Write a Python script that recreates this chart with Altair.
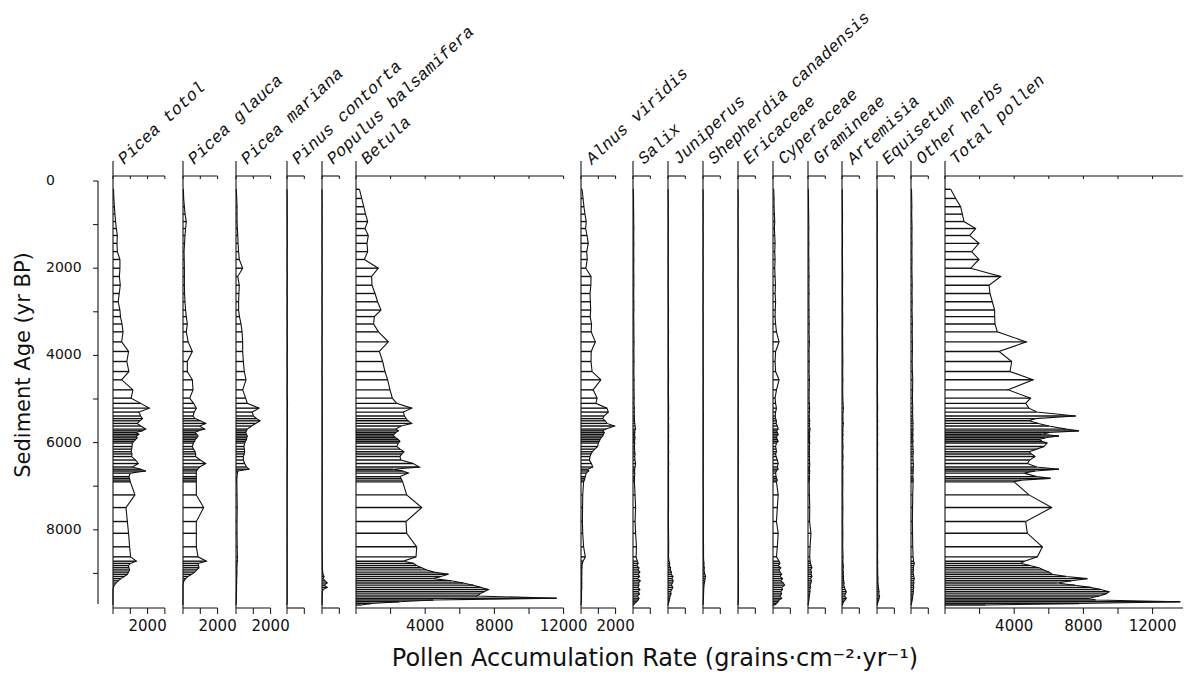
import altair as alt
import pandas as pd

# ---------------- data ----------------
AGES = [190, 400, 590, 760, 930, 1090, 1250, 1430, 1620, 1800,
        2000, 2190, 2390, 2580, 2770, 2960, 3110, 3280, 3460, 3690,
        3910, 4140, 4370, 4560, 4790, 4980, 5100, 5210, 5300, 5390,
        5450, 5500, 5560, 5620, 5690, 5730, 5770, 5810, 5850, 5890,
        5930, 5970, 6010, 6090, 6150, 6210, 6260, 6320, 6400, 6480,
        6560, 6610, 6650, 6700, 6780, 6820, 6860, 6900, 7200, 7490,
        7810, 8080, 8390, 8620, 8720, 8770, 8820, 8870, 8920, 8970,
        9020, 9070, 9120, 9170, 9220, 9270, 9320, 9370, 9420, 9470,
        9520, 9570, 9610, 9650, 9690, 9725]

PICEA_TOTAL = [30, 50, 80, 110, 150, 190, 250, 230, 250, 400,
               400, 370, 420, 360, 300, 400, 430, 520, 580, 500,
               900, 800, 920, 500, 1150, 1050, 1600, 2100, 1500, 1600,
               1700, 1550, 1400, 1600, 1890, 1700, 1310, 1500, 1350, 1400,
               1300, 1200, 1120, 1100, 1080, 1050, 1100, 1080, 1300, 1460,
               1120, 1600, 1890, 1000, 925, 950, 980, 1000, 1270, 750,
               830, 900, 960, 1020, 1350, 1000, 890, 920, 960, 900,
               830, 650, 450, 300, 180, 80, 30, 0, 0, 0,
               0, 0, 0, 0, 0, 0]
PICEA_GLAUCA = [20, 40, 80, 120, 190, 150, 115, 90, 60, 70,
                80, 80, 80, 90, 115, 150, 190, 250, 190, 300,
                540, 250, 250, 540, 580, 385, 615, 770, 650, 580,
                700, 1000, 1310, 960, 1250, 900, 675, 800, 870, 800,
                700, 675, 600, 540, 600, 700, 730, 730, 1000, 1310,
                960, 850, 770, 770, 770, 770, 770, 770, 770, 1195,
                770, 770, 770, 870, 1350, 870, 900, 925, 800, 675,
                500, 290, 150, 60, 20, 0, 0, 0, 0, 0,
                0, 0, 0, 0, 0, 0]
PICEA_MARIANA = [20, 40, 60, 60, 60, 80, 100, 120, 150, 190,
                 385, 100, 190, 170, 150, 150, 200, 290, 350, 385,
                 385, 425, 480, 580, 385, 560, 655, 1330, 945, 1000,
                 1200, 1390, 1135, 900, 655, 600, 560, 600, 655, 620,
                 600, 560, 500, 460, 480, 500, 480, 425, 425, 500,
                 600, 750, 115, 77, 60, 50, 50, 50, 60, 70,
                 60, 60, 70, 80, 80, 60, 60, 50, 50, 60,
                 50, 50, 40, 40, 40, 30, 30, 30, 30, 20,
                 20, 20, 20, 10, 10, 0]
PINUS_CONTORTA = [0, 10, 10, 10, 20, 10, 10, 20, 10, 10,
                  10, 20, 10, 10, 20, 10, 10, 20, 10, 20,
                  20, 10, 20, 20, 10, 20, 30, 20, 20, 30,
                  20, 30, 20, 30, 20, 20, 30, 20, 20, 20,
                  20, 20, 20, 20, 10, 20, 20, 10, 20, 20,
                  20, 10, 20, 10, 10, 10, 20, 10, 10, 10,
                  10, 10, 10, 10, 10, 10, 10, 10, 10, 10,
                  10, 10, 10, 10, 10, 10, 10, 10, 10, 10,
                  10, 10, 10, 10, 0, 0]
POPULUS = [0, 0, 10, 0, 10, 0, 10, 0, 10, 0,
           10, 0, 10, 10, 0, 10, 0, 10, 10, 0,
           10, 10, 0, 10, 10, 10, 20, 10, 10, 20,
           10, 20, 10, 20, 10, 10, 20, 10, 10, 20,
           10, 10, 20, 10, 10, 20, 10, 10, 10, 20,
           10, 10, 20, 10, 10, 10, 10, 20, 10, 10,
           10, 10, 10, 20, 20, 20, 30, 20, 30, 40,
           60, 120, 60, 180, 300, 120, 300, 60, 30, 20,
           20, 10, 10, 10, 0, 0]
BETULA = [200, 330, 450, 550, 675, 520, 710, 635, 675, 480,
          1290, 905, 925, 1100, 1250, 1445, 1060, 1020, 1300, 1870,
          1350, 1540, 1675, 1830, 1965, 2100, 2350, 3220, 2740, 2800,
          2900, 3000, 3220, 2600, 2300, 2450, 2300, 2200, 2160, 2300,
          2450, 2540, 2450, 2350, 2550, 2775, 2650, 2540, 2600, 3300,
          3660, 2160, 2700, 3025, 2540, 2600, 2650, 2700, 2930, 3800,
          2890, 2930, 3510, 3470, 2740, 3315, 3500, 3800, 4085, 4500,
          5340, 4900, 4470, 5500, 6200, 6780, 7200, 7650, 7400, 7170,
          7000, 11600, 4470, 2500, 900, 300]
ALNUS = [60, 120, 170, 230, 300, 270, 350, 420, 330, 360,
         280, 580, 570, 520, 540, 560, 530, 610, 590, 830,
         590, 580, 640, 1150, 700, 930, 860, 1500, 1580, 1330,
         1250, 1400, 1500, 1930, 1450, 1250, 1350, 1300, 1250, 1150,
         1100, 1060, 1000, 960, 800, 650, 580, 520, 480, 600,
         680, 390, 450, 300, 250, 220, 200, 150, 100, 90,
         80, 100, 150, 250, 120, 80, 60, 60, 50, 50,
         50, 40, 50, 40, 50, 40, 50, 40, 30, 30,
         30, 30, 20, 20, 10, 0]
SALIX = [20, 30, 30, 40, 40, 50, 40, 50, 40, 50,
         40, 50, 50, 40, 50, 50, 40, 50, 50, 60,
         50, 60, 50, 60, 60, 70, 60, 80, 70, 80,
         80, 90, 100, 120, 150, 100, 110, 90, 100, 120,
         100, 90, 100, 80, 90, 100, 120, 100, 110, 150,
         120, 100, 90, 100, 90, 80, 90, 80, 120, 150,
         120, 150, 200, 180, 250, 300, 220, 350, 280, 400,
         300, 380, 250, 420, 320, 350, 280, 400, 300, 380,
         250, 350, 300, 200, 100, 30]
JUNIPERUS = [10, 10, 20, 10, 20, 20, 10, 20, 20, 10,
             20, 20, 10, 20, 20, 30, 20, 20, 30, 20,
             30, 20, 30, 30, 20, 30, 30, 40, 30, 30,
             40, 30, 30, 40, 30, 40, 30, 30, 40, 30,
             30, 40, 30, 30, 30, 40, 30, 30, 30, 40,
             30, 30, 40, 30, 30, 30, 30, 30, 30, 30,
             20, 30, 40, 30, 60, 100, 80, 150, 120, 200,
             180, 290, 220, 300, 250, 200, 280, 220, 150, 180,
             120, 100, 80, 50, 20, 0]
SHEPHERDIA = [0, 10, 0, 10, 10, 0, 10, 10, 0, 10,
              10, 0, 10, 10, 10, 0, 10, 10, 10, 10,
              10, 10, 10, 20, 10, 10, 20, 10, 20, 20,
              10, 20, 20, 10, 20, 20, 10, 20, 20, 10,
              20, 20, 10, 20, 10, 20, 20, 10, 20, 10,
              20, 10, 20, 10, 10, 20, 10, 10, 20, 20,
              20, 20, 30, 30, 40, 60, 50, 80, 60, 80,
              100, 150, 120, 100, 80, 60, 50, 40, 40, 30,
              30, 20, 20, 10, 10, 0]
ERICACEAE = [0, 10, 10, 0, 10, 10, 10, 0, 10, 10,
             10, 10, 0, 10, 10, 10, 10, 10, 20, 10,
             10, 20, 10, 10, 20, 10, 20, 20, 10, 20,
             20, 10, 20, 20, 20, 10, 20, 20, 10, 20,
             20, 20, 10, 20, 20, 10, 20, 10, 20, 20,
             10, 20, 10, 20, 10, 10, 20, 10, 10, 20,
             10, 20, 10, 20, 20, 30, 20, 30, 20, 30,
             30, 20, 30, 30, 20, 30, 20, 30, 20, 20,
             20, 20, 10, 10, 10, 0]
CYPERACEAE = [40, 60, 60, 80, 100, 80, 100, 120, 100, 120,
              100, 120, 140, 120, 150, 130, 120, 150, 200, 350,
              150, 120, 150, 350, 200, 120, 150, 200, 150, 130,
              150, 200, 180, 250, 300, 200, 250, 300, 220, 200,
              250, 300, 200, 150, 180, 200, 150, 180, 250, 300,
              250, 300, 200, 150, 180, 200, 250, 200, 300, 250,
              200, 300, 250, 200, 350, 400, 300, 450, 350, 400,
              500, 400, 550, 450, 600, 670, 500, 550, 450, 500,
              400, 500, 350, 300, 200, 100]
GRAMINEAE = [20, 30, 30, 40, 40, 50, 40, 50, 40, 50,
             50, 60, 50, 60, 50, 60, 60, 70, 60, 80,
             60, 70, 60, 80, 70, 60, 80, 90, 80, 70,
             80, 100, 90, 80, 120, 100, 90, 80, 100, 90,
             80, 90, 100, 80, 90, 80, 70, 90, 80, 100,
             90, 80, 100, 90, 80, 90, 80, 70, 80, 100,
             90, 170, 120, 100, 120, 150, 180, 230, 150, 200,
             180, 230, 150, 200, 170, 120, 150, 100, 120, 90,
             80, 60, 50, 40, 20, 0]
ARTEMISIA = [10, 20, 20, 30, 30, 20, 30, 30, 20, 30,
             30, 40, 30, 30, 40, 30, 40, 40, 30, 40,
             40, 50, 40, 50, 40, 50, 60, 80, 60, 50,
             60, 50, 80, 60, 50, 60, 40, 60, 50, 40,
             50, 40, 50, 60, 50, 40, 50, 60, 50, 40,
             60, 50, 40, 50, 40, 50, 40, 50, 40, 50,
             40, 50, 40, 60, 50, 60, 80, 70, 60, 80,
             70, 90, 80, 100, 120, 100, 150, 180, 250, 200,
             150, 250, 180, 100, 50, 20]
EQUISETUM = [10, 10, 20, 10, 20, 20, 10, 20, 20, 20,
             20, 20, 30, 20, 20, 30, 20, 30, 20, 30,
             30, 20, 30, 30, 20, 30, 30, 40, 30, 30,
             30, 40, 30, 30, 40, 30, 30, 40, 30, 30,
             30, 30, 40, 30, 30, 30, 40, 30, 30, 30,
             30, 40, 30, 30, 30, 30, 40, 30, 30, 30,
             30, 30, 40, 30, 40, 40, 30, 40, 40, 40,
             40, 50, 60, 50, 60, 70, 80, 100, 120, 100,
             150, 120, 100, 60, 30, 10]
OTHER_HERBS = [30, 40, 50, 40, 50, 60, 50, 60, 50, 60,
               50, 60, 70, 60, 70, 60, 70, 80, 70, 80,
               80, 70, 80, 100, 90, 80, 90, 100, 90, 100,
               100, 110, 120, 100, 120, 110, 100, 120, 110, 100,
               110, 120, 100, 110, 120, 130, 120, 110, 120, 130,
               135, 120, 130, 120, 110, 120, 130, 120, 100, 90,
               80, 90, 100, 120, 150, 190, 160, 130, 150, 120,
               140, 160, 190, 150, 170, 140, 160, 130, 140, 120,
               100, 90, 70, 50, 30, 10]
TOTAL_POLLEN = [330, 620, 905, 1000, 1100, 1770, 1425, 1965, 1540, 1965,
                1485, 3220, 2545, 2600, 2735, 2870, 2870, 2890, 3025, 4700,
                3120, 3855, 3760, 5090, 3640, 4950, 4660, 4855, 5300, 7550,
                5200, 4855, 5400, 6000, 7000, 7745, 6000, 5630, 6590, 5800,
                5435, 5600, 5900, 5720, 5300, 4855, 5000, 5200, 4900, 4760,
                5300, 6590, 5200, 4565, 5300, 6110, 4400, 3990, 4855, 6165,
                4660, 4760, 5630, 5340, 4600, 4375, 4900, 5435, 5700, 6010,
                6200, 7000, 8230, 7300, 6495, 7500, 8400, 9000, 9480, 9300,
                8900, 8325, 8700, 13600, 7745, 2350]

TAXA = ["Picea totol", "Picea glauca", "Picea mariana", "Pinus contorta",
        "Populus balsamifera", "Betula", "Alnus viridis", "Salix", "Juniperus",
        "Shepherdia canadensis", "Ericaceae", "Cyperaceae", "Gramineae",
        "Artemisia", "Equisetum", "Other herbs", "Total pollen"]
SERIES = [PICEA_TOTAL, PICEA_GLAUCA, PICEA_MARIANA, PINUS_CONTORTA, POPULUS,
          BETULA, ALNUS, SALIX, JUNIPERUS, SHEPHERDIA, ERICACEAE, CYPERACEAE,
          GRAMINEAE, ARTEMISIA, EQUISETUM, OTHER_HERBS, TOTAL_POLLEN]
AXIS_MAX = [3000, 2000, 2000, 1000, 1000, 12000, 2000, 1000, 1000,
            1000, 1000, 1000, 1000, 1000, 1000, 1000, 14000]
BOTTOM_LABELS = [[2000], [2000], [2000], [], [], [4000, 8000, 12000], [2000],
                 [], [], [], [], [], [], [], [], [], [4000, 8000, 12000]]
AGE_TICKS = [0, 1000, 2000, 3000, 4000, 5000, 6000, 7000, 8000, 9000]
AGE_LABELS = [0, 2000, 4000, 6000, 8000]
X_TITLE = "Pollen Accumulation Rate (grains\u00b7cm\u207b\u00b2\u00b7yr\u207b\u00b9)"
Y_TITLE = "Sediment Age (yr BP)"

# ---------------- layout ----------------
PANEL_PX = [113, 183, 236, 287, 322, 356, 581, 633, 668, 703, 738, 773,
            808, 842, 877, 911, 945]
W, H = 1175, 670
PXG = 34.6 / 2000.0      # pixels per grain
PXY = 0.0436             # pixels per year
Y0 = 181                 # page y of age 0


def gx(px):
    return (px - 8) / PXG


def ay(py):
    return (py - Y0) / PXY


xs = alt.Scale(domain=[0, W / PXG], nice=False, zero=False)
ys = alt.Scale(domain=[ay(8), ay(8 + H)], nice=False, zero=False, reverse=True)


def X(f):
    return alt.X(f, type="quantitative", scale=xs, axis=None)


def Y(f):
    return alt.Y(f, type="quantitative", scale=ys, axis=None)


rows = []
for t, vals, px in zip(TAXA, SERIES, PANEL_PX):
    off = gx(px)
    for a, v in zip(AGES, vals):
        rows.append({"taxon": t, "age": a, "value": v, "x0": off, "x1": off + v})
samples = pd.DataFrame(rows)

frame_rows, vt_rows, ht_rows, lab_rows, name_rows = [], [], [], [], []
for t, px, mx, labs in zip(TAXA, PANEL_PX, AXIS_MAX, BOTTOM_LABELS):
    off = gx(px)
    frame_rows.append({"x": off, "x2": off, "y": ay(161), "y2": ay(608)})
    frame_rows.append({"x": off, "x2": off + mx, "y": ay(176), "y2": ay(176)})
    frame_rows.append({"x": off, "x2": off + mx, "y": ay(608), "y2": ay(608)})
    step = 2000 if mx > 3000 else 1000
    v = 0
    while v <= mx:
        vt_rows.append({"x": off + v, "y": ay(176), "y2": ay(179)})
        vt_rows.append({"x": off + v, "y": ay(608), "y2": ay(614)})
        v += step
    for l in labs:
        lab_rows.append({"x": off + l, "y": ay(626), "text": str(l)})
    name_rows.append({"x": gx(px + 11), "y": ay(165), "text": t})

# left age axis
frame_rows.append({"x": gx(98), "x2": gx(98), "y": 0, "y2": 9700})
for a in AGE_TICKS:
    ht_rows.append({"x": gx(93), "x2": gx(98), "y": a})
age_lab = pd.DataFrame({"x": [gx(46)] * len(AGE_LABELS), "y": AGE_LABELS,
                        "text": [str(a) for a in AGE_LABELS]})

frames = pd.DataFrame(frame_rows)
ticks_v = pd.DataFrame(vt_rows)
ticks_h = pd.DataFrame(ht_rows)
bottom_labels = pd.DataFrame(lab_rows)
names = pd.DataFrame(name_rows)
xtitle = pd.DataFrame([{"x": gx(655), "y": ay(659), "text": X_TITLE}])
ytitle = pd.DataFrame([{"x": gx(24), "y": ay(365), "text": Y_TITLE}])

BLACK = "#111111"

bars = alt.Chart(samples).mark_rule(color=BLACK, strokeWidth=1.4).encode(
    x=X("x0"), x2="x1", y=Y("age"))
outline = alt.Chart(samples).mark_line(color=BLACK, strokeWidth=1.1).encode(
    x=X("x1"), y=Y("age"), detail="taxon:N", order="age:Q")
frame = alt.Chart(frames).mark_rule(color=BLACK, strokeWidth=1.1).encode(
    x=X("x"), x2="x2", y=Y("y"), y2="y2")
tv = alt.Chart(ticks_v).mark_rule(color=BLACK, strokeWidth=1).encode(
    x=X("x"), y=Y("y"), y2="y2")
th = alt.Chart(ticks_h).mark_rule(color=BLACK, strokeWidth=1).encode(
    x=X("x"), x2="x2", y=Y("y"))
blab = alt.Chart(bottom_labels).mark_text(
    font="DejaVu Sans", fontSize=15, align="center", baseline="middle", color=BLACK
).encode(x=X("x"), y=Y("y"), text="text:N")
alab = alt.Chart(age_lab).mark_text(
    font="DejaVu Sans", fontSize=14, align="left", baseline="middle", color=BLACK
).encode(x=X("x"), y=Y("y"), text="text:N")
nlab = alt.Chart(names).mark_text(
    font="Liberation Mono", fontStyle="italic", fontSize=17, align="left",
    baseline="alphabetic", angle=317, color=BLACK
).encode(x=X("x"), y=Y("y"), text="text:N")
xt = alt.Chart(xtitle).mark_text(
    font="DejaVu Sans", fontSize=24, align="center", baseline="middle", color=BLACK
).encode(x=X("x"), y=Y("y"), text="text:N")
yt = alt.Chart(ytitle).mark_text(
    font="DejaVu Sans", fontSize=21, align="center", baseline="middle", angle=270,
    color=BLACK
).encode(x=X("x"), y=Y("y"), text="text:N")

chart = alt.layer(bars, outline, frame, tv, th, blab, alab, nlab, xt, yt).properties(
    width=W, height=H, autosize=alt.AutoSizeParams(type="none"),
    padding={"left": 0, "top": 0, "right": 0, "bottom": 0}, background="white"
).configure_view(stroke=None)

chart.save("out.html", embed_options={"renderer": "svg", "actions": False})
